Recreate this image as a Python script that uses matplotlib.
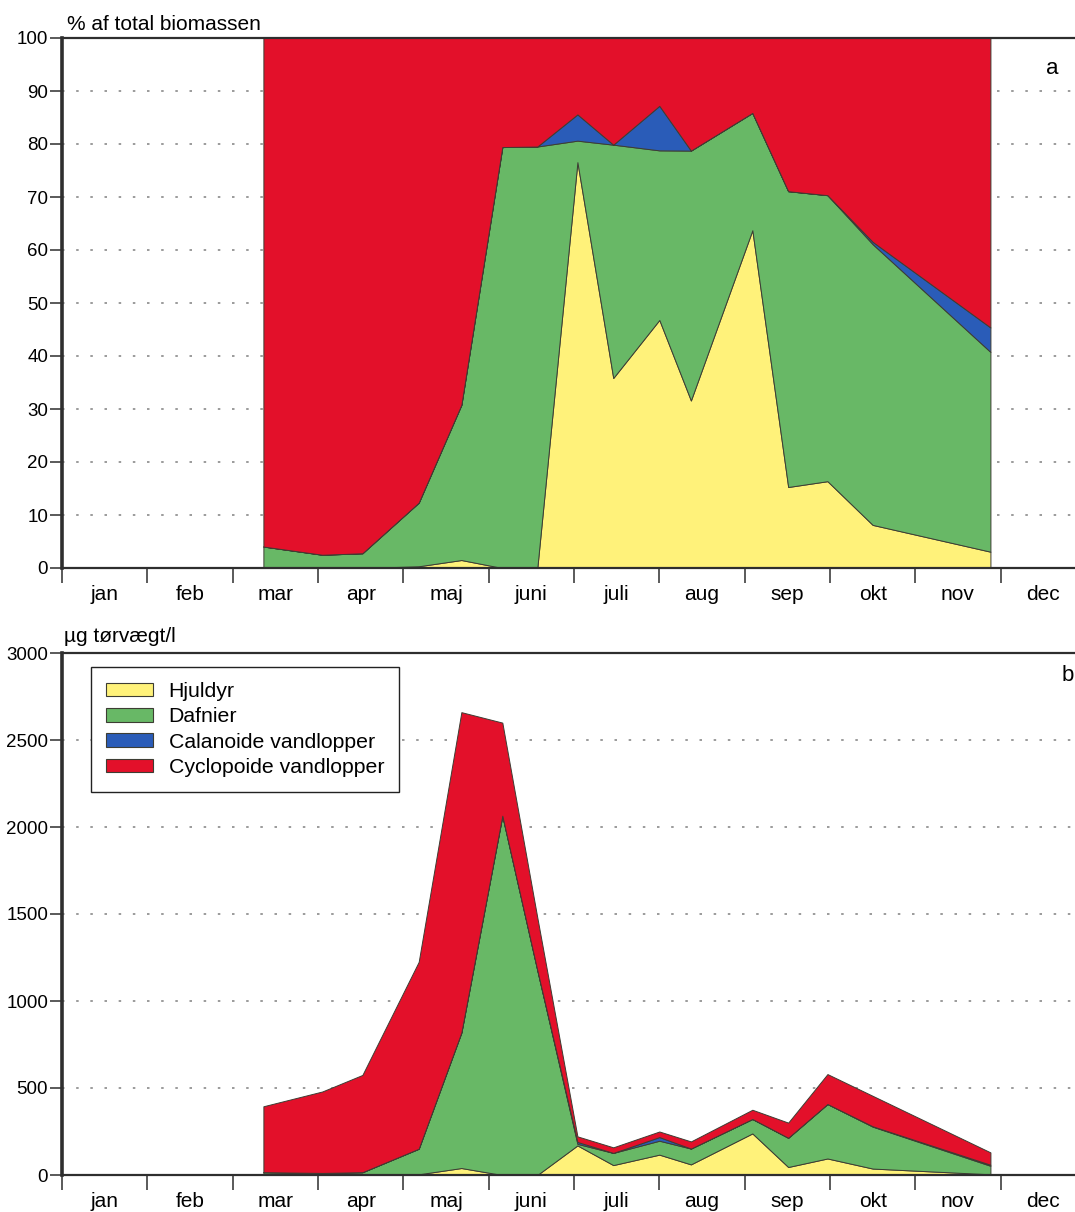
import numpy as np
import matplotlib
matplotlib.use("Agg")
from matplotlib import pyplot as plt
from matplotlib.patches import Patch

plt.rcParams["font.family"] = ["Liberation Sans", "DejaVu Sans"]

MONTHS = ["jan", "feb", "mar", "apr", "maj", "juni", "juli", "aug", "sep", "okt", "nov", "dec"]

# sampling dates as position on the month axis (0 = 1 jan, 12 = end of dec)
sample_pos = np.array([2.36, 3.05, 3.52, 4.18, 4.68, 5.16, 5.57, 6.04,
                       6.46, 7.00, 7.37, 8.09, 8.51, 8.97, 9.50, 10.88])

# biomass, ug dry weight per litre
hjuldyr = np.array([0, 0, 0, 4, 40, 0, 0, 170, 57, 117, 61, 239, 46, 95, 37, 4])
dafnier = np.array([16, 12, 16, 147, 779, 2065, 1177, 9, 70, 80, 91, 83, 168, 313, 241, 49])
calanoide = np.array([0, 0, 0, 0, 0, 0, 0, 11, 0, 21, 0, 0, 0, 0, 2, 6])
cyclopoide = np.array([379, 468, 559, 1074, 1841, 535, 303, 32, 32, 32, 41, 53, 87, 172, 175, 71])

GROUPS = ["Hjuldyr", "Dafnier", "Calanoide vandlopper", "Cyclopoide vandlopper"]
COLORS = ["#fff27a", "#68b866", "#2a5cb8", "#e3102a"]
EDGE = "#3d3d33"
FRAME = "#2e2e2e"
GRID_STYLE = (0, (1.5, 7))

W, H = 1075, 1212


def style_axes(ax, ymax, ystep):
    ax.set_xlim(0, 12)
    ax.set_ylim(0, ymax)
    ax.set_yticks(np.arange(0, ymax + 1, ystep))
    ax.set_xticks(np.arange(0, 12))
    ax.set_xticklabels([])
    ax.set_xticks(np.arange(12) + 0.5, minor=True)
    ax.set_xticklabels(MONTHS, minor=True, fontsize=15)
    ax.tick_params(axis="x", which="major", length=11, width=1.1, color=FRAME, direction="out")
    ax.tick_params(axis="x", which="minor", length=0, pad=12)
    ax.tick_params(axis="y", length=9, width=1.1, color=FRAME, labelsize=13.5, pad=1)
    for spine in ax.spines.values():
        spine.set_color(FRAME)
        spine.set_linewidth(1.6)
    ax.spines["left"].set_linewidth(2.6)
    ax.yaxis.grid(True, linestyle=GRID_STYLE, color="#8a8a8a", linewidth=1.2)
    ax.set_axisbelow(True)


def draw_stack(ax, layers):
    lower = np.zeros(len(sample_pos))
    for values, color in zip(layers, COLORS):
        upper = lower + values
        ax.fill_between(sample_pos, lower, upper, facecolor=color,
                        edgecolor=EDGE, linewidth=0.7, zorder=2)
        lower = upper


layers = [hjuldyr, dafnier, calanoide, cyclopoide]
total = hjuldyr + dafnier + calanoide + cyclopoide

fig = plt.figure(figsize=(W / 100, H / 100), dpi=100)
ax_top = fig.add_axes([62 / W, 1 - 568 / H, 1024 / W, 530 / H])
ax_bot = fig.add_axes([62 / W, 1 - 1175 / H, 1024 / W, 522 / H])

# a: share of total biomass
style_axes(ax_top, 100, 10)
draw_stack(ax_top, [v / total * 100 for v in layers])
ax_top.text(0.967, 0.943, "a", transform=ax_top.transAxes, fontsize=16,
            ha="center", va="center")
fig.text(67 / W, 1 - 24 / H, "% af total biomassen", fontsize=15, ha="left", va="center")

# b: absolute biomass
style_axes(ax_bot, 3000, 500)
draw_stack(ax_bot, layers)
ax_bot.text(0.982, 0.956, "b", transform=ax_bot.transAxes, fontsize=16,
            ha="center", va="center")
fig.text(64 / W, 1 - 636 / H, "µg tørvægt/l", fontsize=15, ha="left", va="center")

handles = [Patch(facecolor=c, edgecolor=EDGE, linewidth=0.8, label=g)
           for g, c in zip(GROUPS, COLORS)]
leg = ax_bot.legend(handles=handles, loc="upper left", bbox_to_anchor=(0.0283, 0.973),
                    borderaxespad=0, frameon=True, fancybox=False, framealpha=1,
                    edgecolor="#222222", fontsize=15.3, handlelength=2.2,
                    handleheight=0.62, handletextpad=0.75, labelspacing=0.3,
                    borderpad=0.7)
leg.get_frame().set_linewidth(1.0)

fig.savefig("out.png", dpi=100)
